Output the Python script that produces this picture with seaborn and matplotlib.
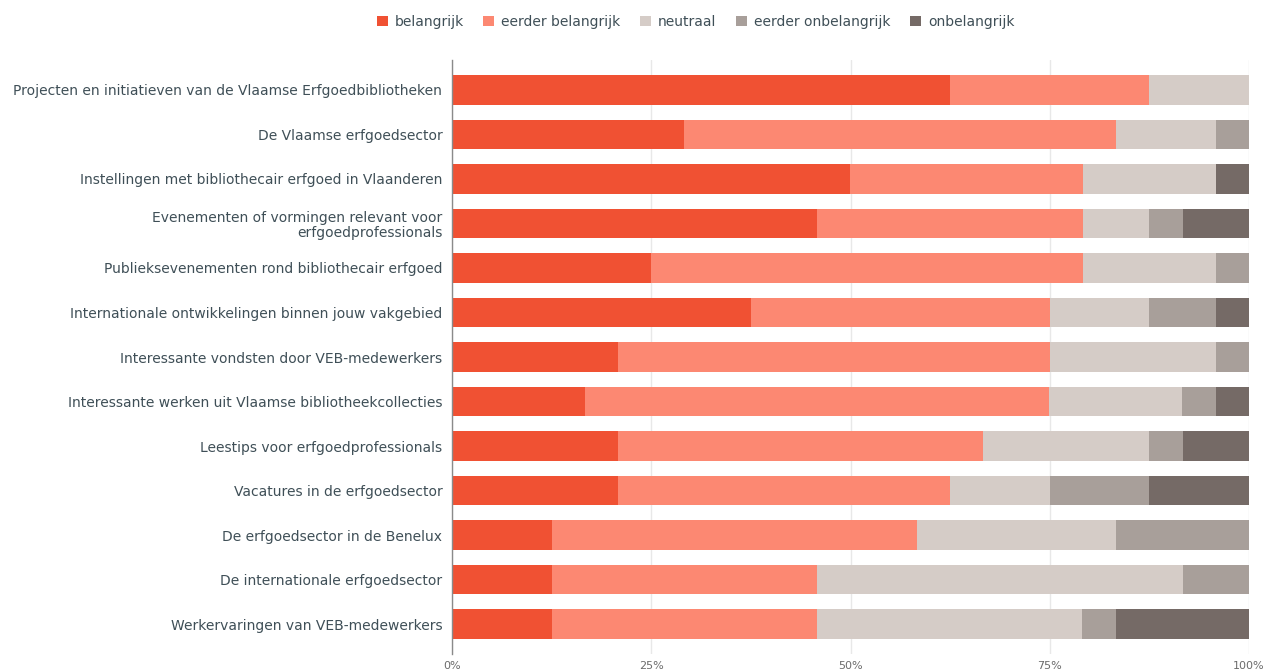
import pandas as pd
import seaborn as sns
import matplotlib.pyplot as plt
from matplotlib.patches import Patch

# Data (shares in %)
topics = [
    'Projecten en initiatieven van de Vlaamse Erfgoedbibliotheken',
    'De Vlaamse erfgoedsector',
    'Instellingen met bibliothecair erfgoed in Vlaanderen',
    'Evenementen of vormingen relevant voor\nerfgoedprofessionals',
    'Publieksevenementen rond bibliothecair erfgoed',
    'Internationale ontwikkelingen binnen jouw vakgebied',
    'Interessante vondsten door VEB-medewerkers',
    'Interessante werken uit Vlaamse bibliotheekcollecties',
    'Leestips voor erfgoedprofessionals',
    'Vacatures in de erfgoedsector',
    'De erfgoedsector in de Benelux',
    'De internationale erfgoedsector',
    'Werkervaringen van VEB-medewerkers',
]
levels = ['belangrijk', 'eerder belangrijk', 'neutraal', 'eerder onbelangrijk', 'onbelangrijk']
belangrijk = [62.5, 29.2, 50.0, 45.8, 25.0, 37.5, 20.8, 16.7, 20.8, 20.8, 12.5, 12.5, 12.5]
eerder_belangrijk = [25.0, 54.2, 29.2, 33.3, 54.2, 37.5, 54.2, 58.3, 45.8, 41.7, 45.8, 33.3, 33.3]
neutraal = [12.5, 12.5, 16.7, 8.3, 16.7, 12.5, 20.8, 16.7, 20.8, 12.5, 25.0, 45.8, 33.3]
eerder_onbelangrijk = [0.0, 4.2, 0.0, 4.2, 4.2, 8.3, 4.2, 4.2, 4.2, 12.5, 16.7, 8.3, 4.2]
onbelangrijk = [0.0, 0.0, 4.2, 8.3, 0.0, 4.2, 0.0, 4.2, 8.3, 12.5, 0.0, 0.0, 16.7]
colors = ['#f05133', '#fc8872', '#d5ccc7', '#a89f9a', '#756a66']

df = pd.DataFrame({'topic': topics, 'belangrijk': belangrijk,
                   'eerder belangrijk': eerder_belangrijk, 'neutraal': neutraal,
                   'eerder onbelangrijk': eerder_onbelangrijk, 'onbelangrijk': onbelangrijk})
cum = df[levels].cumsum(axis=1)
# normalise so every row ends at exactly 100
cum = cum.div(cum[levels[-1]], axis=0) * 100
cum['topic'] = df['topic']

sns.set_style('white')
plt.rcParams['font.family'] = ['DejaVu Sans']
text_col = '#3f4f57'

fig = plt.figure(figsize=(12.67, 6.71), dpi=100)
ax = fig.add_axes([452 / 1267, 1 - 654 / 671, 797 / 1267, 594 / 671])

# draw cumulative bars from the widest to the narrowest so they stack visually
for lvl, col in reversed(list(zip(levels, colors))):
    sns.barplot(data=cum, x=lvl, y='topic', order=topics, color=col,
                orient='h', width=0.67, ax=ax, saturation=1, linewidth=0)

ax.set_xlim(0, 100)
ax.set_ylim(12.674, -0.674)
ax.set_xticks([0, 25, 50, 75, 100])
ax.set_xticklabels(['0%', '25%', '50%', '75%', '100%'], fontsize=8, color='#6b6b6b')
ax.set_xlabel('')
ax.set_ylabel('')
ax.tick_params(axis='y', labelsize=10, colors=text_col, length=0, pad=7)
ax.tick_params(axis='x', length=0, pad=5)
for lab in ax.get_yticklabels():
    lab.set_linespacing(1.1)
ax.grid(axis='x', color='#e8e8e8', lw=1)
ax.set_axisbelow(True)
for s in ['top', 'right', 'bottom']:
    ax.spines[s].set_visible(False)
ax.spines['left'].set_color('#8a8a8a')
ax.spines['left'].set_linewidth(1)

handles = [Patch(facecolor=c, edgecolor='none', label=l) for l, c in zip(levels, colors)]
fig.legend(handles=handles, loc='center', bbox_to_anchor=(0.549, 1 - 22 / 671), ncol=5,
           frameon=False, fontsize=10, handlelength=0.8, handleheight=0.8,
           handletextpad=0.5, columnspacing=1.4, labelcolor=text_col)

fig.savefig('out.png', dpi=100)
